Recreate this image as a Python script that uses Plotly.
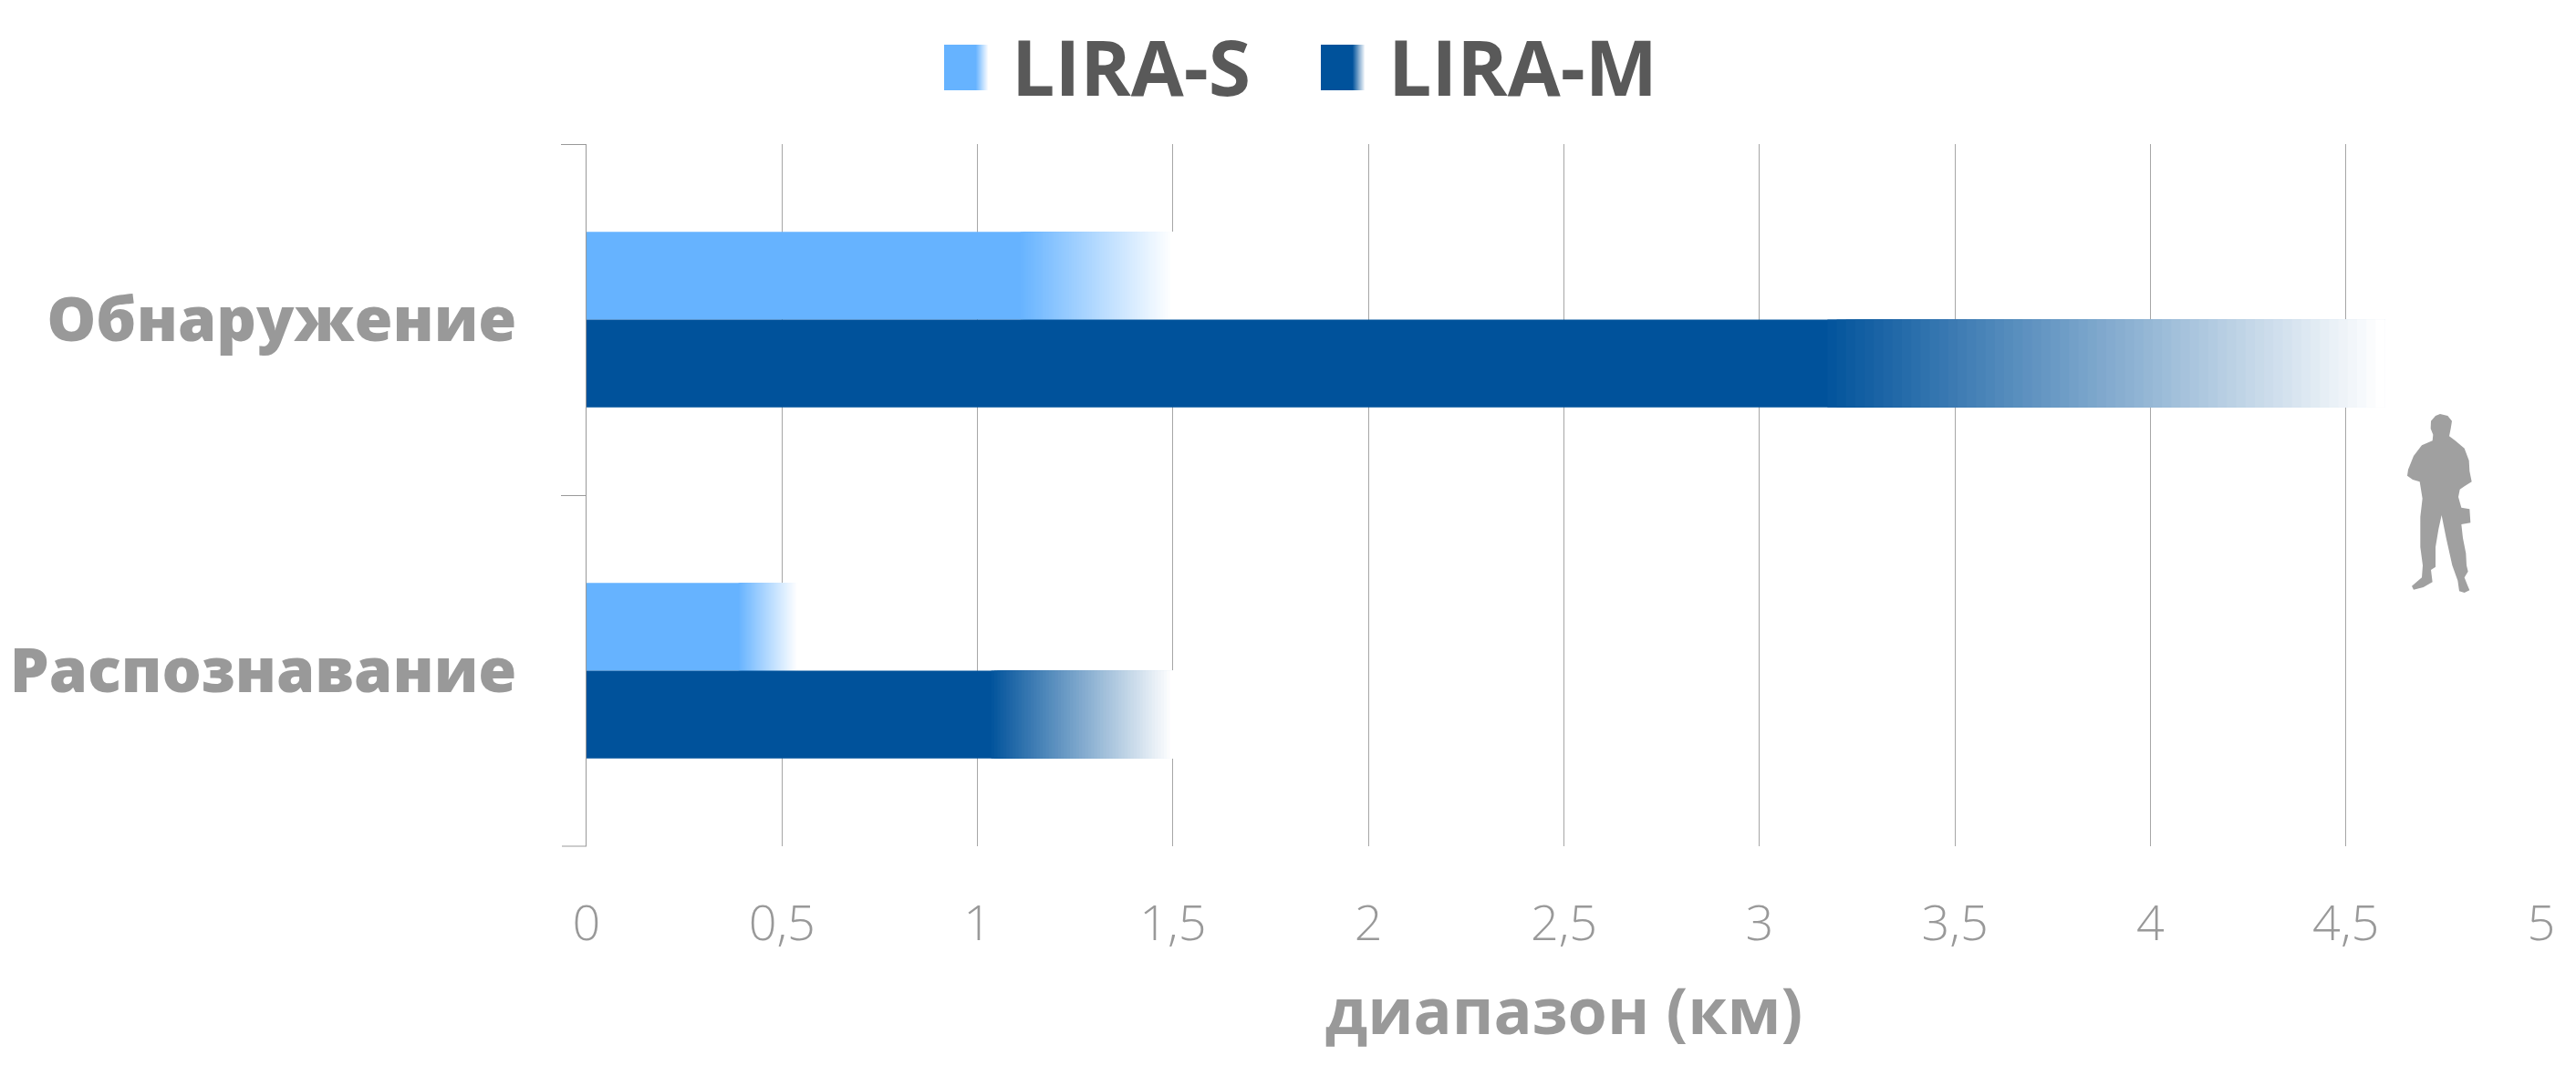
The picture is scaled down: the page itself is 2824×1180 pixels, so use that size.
import plotly.graph_objects as go

# chart values
categories = ["Обнаружение", "Распознавание"]
lira_s = [1.5, 0.54]
lira_m = [4.6, 1.5]
tick_values = [0, 0.5, 1, 1.5, 2, 2.5, 3, 3.5, 4, 4.5, 5]
tick_labels = ["0", "0,5", "1", "1,5", "2", "2,5", "3", "3,5", "4", "4,5", "5"]

LIGHT = (102, 179, 255)
DARK = (0, 82, 155)
FADE_STEPS = 60

# the page body has an 8px margin, so the figure sits 8px in from the window corner
PAGE = 8
LEFT, RIGHT, TOP, BOTTOM = 643 - PAGE, 2786 - PAGE, 158 - PAGE, 928 - PAGE
WIDTH, HEIGHT = 2824 - PAGE, 1180 - PAGE


# window pixels to paper coordinates
def px(x):
    return (x - PAGE - LEFT) / (RIGHT - LEFT)


def py(y):
    return (BOTTOM - (y - PAGE)) / (BOTTOM - TOP)


def mix(rgb, t):
    # t=0 is the colour, t=1 is white
    return "rgb(%d,%d,%d)" % tuple(round(c + (255 - c) * t) for c in rgb)


# solid bar for the value, then segments on top that fade it to white.
# every segment runs to the end of the bar so no seams show between them
def addSeries(fig, name, values, rgb, offset, fadeStart):
    fig.add_trace(go.Bar(y=categories, x=values, name=name, orientation="h", width=0.25, offset=offset,
                         marker=dict(color=mix(rgb, 0), line=dict(width=0)), showlegend=False))
    ys, xs, bases, colors = [], [], [], []
    for cat, value, start in zip(categories, values, fadeStart):
        step = value * (1 - start) / FADE_STEPS
        for i in range(FADE_STEPS):
            base = value * start + i * step
            ys.append(cat)
            xs.append(value - base)
            bases.append(base)
            colors.append(mix(rgb, (i + 1) / FADE_STEPS))
    fig.add_trace(go.Bar(y=ys, x=xs, base=bases, orientation="h", width=0.25, offset=offset,
                         marker=dict(color=colors, line=dict(width=0)), showlegend=False, hoverinfo="skip"))


# legend is built by hand because plotly swatches cannot fade
def legendItem(shapes, annotations, label, rgb, x0, x1, textX):
    solid = x0 + (x1 - x0) * 0.72
    shapes.append(dict(type="rect", xref="paper", yref="paper", x0=px(x0), x1=px(x1), y0=py(99), y1=py(49),
                       fillcolor=mix(rgb, 0), line=dict(width=0)))
    n = 12
    for i in range(n):
        a = solid + (x1 - solid) * i / n
        shapes.append(dict(type="rect", xref="paper", yref="paper", x0=px(a), x1=px(x1), y0=py(99), y1=py(49),
                           fillcolor=mix(rgb, (i + 1) / n), line=dict(width=0)))
    annotations.append(dict(text=label, xref="paper", yref="paper", x=px(textX), y=py(72), xanchor="left",
                            yanchor="middle", showarrow=False,
                            font=dict(family="Open Sans", size=84, color="#595959", weight=700)))


# soldier outline in window pixels
SOLDIER = [(345, 102), (370, 108), (384, 125), (380, 150), (375, 175), (395, 190), (425, 215), (440, 255),
           (442, 290), (449, 325), (425, 340), (410, 350), (405, 375), (412, 400), (415, 410), (442, 415),
           (445, 460), (415, 465), (420, 510), (430, 560), (432, 600), (437, 620), (425, 640), (435, 665),
           (442, 682), (425, 690), (408, 685), (403, 650), (385, 600), (365, 510), (350, 435), (340, 480),
           (330, 540), (330, 605), (315, 615), (320, 655), (290, 672), (258, 680), (252, 668), (285, 640),
           (288, 600), (280, 540), (280, 440), (287, 380), (278, 325), (255, 318), (237, 305), (240, 285),
           (258, 240), (285, 205), (320, 190), (322, 170), (314, 150), (315, 125), (330, 108)]


def soldierPath():
    pts = [(px(2560 + a / 3), py(420 + b / 3)) for a, b in SOLDIER]
    return "M" + " L".join("%.5f,%.5f" % p for p in pts) + " Z"


fig = go.Figure()
addSeries(fig, "LIRA-S", lira_s, LIGHT, -0.25, [0.74, 0.72])
addSeries(fig, "LIRA-M", lira_m, DARK, 0, [0.69, 0.69])

shapes = [dict(type="path", xref="paper", yref="paper", path=soldierPath(), fillcolor="#a0a0a0", line=dict(width=0)),
          # plotly leaves out the last boundary tick on the category axis
          dict(type="line", xref="paper", yref="paper", x0=px(643 - 27), x1=px(643), y0=0, y1=0,
               line=dict(color="#999999", width=1))]
annotations = []
legendItem(shapes, annotations, "LIRA-S", LIGHT, 1035, 1084, 1107)
legendItem(shapes, annotations, "LIRA-M", DARK, 1448, 1497, 1520)

fig.update_layout(
    width=WIDTH, height=HEIGHT,
    margin=dict(l=LEFT, r=WIDTH - RIGHT, t=TOP, b=HEIGHT - BOTTOM, autoexpand=False),
    paper_bgcolor="white", plot_bgcolor="white",
    barmode="overlay", showlegend=False,
    shapes=shapes, annotations=annotations,
    xaxis=dict(range=[0, 5], tickvals=tick_values, ticktext=tick_labels, showgrid=True, gridcolor="#a6a6a6",
               gridwidth=1, zeroline=False, showline=False, ticks="", ticklabelstandoff=48,
               tickfont=dict(family="Open Sans", size=54, color="#999999", weight=300),
               title=dict(text="диапазон (км)", standoff=38,
                          font=dict(family="Open Sans", size=70, color="#999999", weight=700))),
    yaxis=dict(categoryorder="array", categoryarray=categories, autorange="reversed", showgrid=False,
               zeroline=False, showline=True, linecolor="#999999", linewidth=1, ticks="outside",
               tickson="boundaries", ticklen=27, tickcolor="#999999", tickwidth=1, ticklabelstandoff=62,
               tickfont=dict(family="Open Sans", size=68, color="#999999", weight=800)),
)

fig.write_html("out.html")
